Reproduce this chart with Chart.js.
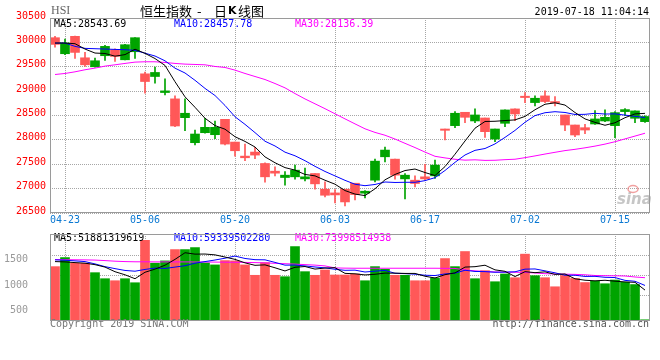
<!DOCTYPE html>
<html>
<head>
<meta charset="utf-8">
<script src="https://cdn.jsdelivr.net/npm/chart.js@4.4.1/dist/chart.umd.min.js"></script>
<style>
  body { margin: 0; background: #fff; }
  #wrap { position: relative; width: 660px; height: 360px; }
  canvas { position: absolute; left: 0; }
  #kline { top: 0; }
  #vol { top: 230px; }
</style>
</head>
<body>
<div id="wrap">
  <canvas id="kline" width="660" height="230"></canvas>
  <canvas id="vol" width="660" height="100"></canvas>
</div>
<script>
// HSI daily K-line, 2019-04-18 .. 2019-07-18
const dates = ['04-18','04-23','04-24','04-25','04-26','04-29','04-30','05-02','05-03','05-06',
  '05-07','05-08','05-09','05-10','05-14','05-15','05-16','05-17','05-20','05-21',
  '05-22','05-23','05-24','05-27','05-28','05-29','05-30','05-31','06-03','06-04',
  '06-05','06-06','06-10','06-11','06-12','06-13','06-14','06-17','06-18','06-19',
  '06-20','06-21','06-24','06-25','06-26','06-27','06-28','07-02','07-03','07-04',
  '07-05','07-08','07-09','07-10','07-11','07-12','07-15','07-16','07-17','07-18'];
const tickDates = ['04-23', '05-06', '05-20', '06-03', '06-17', '07-02', '07-15'];

const open = [30096,29767,30124,29684,29499,29726,29849,29643,29808,29355,
  29300,28971,28841,28456,27942,28147,28106,28422,27955,27667,
  27750,27516,27358,27228,27242,27200,27310,26988,26912,26988,
  27111,26906,27173,27653,27605,27200,27173,27242,27262,28223,
  28292,28566,28388,28449,28017,28340,28635,28896,28765,28902,
  28786,28511,28305,28250,28326,28388,28292,28580,28443,28374];
const high = [30124,30069,30130,29794,29677,29939,29870,29959,30100,29389,
  29492,29252,28902,28841,28202,28443,28388,28422,27955,27914,
  27846,27530,27448,27352,27482,27420,27310,27139,26981,26988,
  27111,26961,27605,27852,27605,27310,27262,27496,27585,28223,
  28580,28566,28635,28449,28223,28614,28635,28971,28902,29005,
  28889,28511,28305,28319,28600,28614,28580,28642,28594,28491];
const low = [29904,29746,29671,29506,29490,29630,29609,29640,29671,28957,
  29163,28923,28271,28189,27894,28140,28024,27894,27667,27571,
  27612,27132,27262,27070,27194,27159,26988,26830,26706,26645,
  26768,26809,27139,27550,27194,26789,27036,27173,27207,27997,
  28250,28353,28353,28052,27962,28271,28394,28765,28696,28765,
  28696,28189,28065,28127,28319,28374,28045,28497,28353,28360];
const close = [29959,29987,29794,29540,29623,29918,29712,29952,30096,29197,
  29383,29005,28285,28546,28120,28257,28257,27914,27777,27633,
  27688,27242,27317,27276,27379,27242,27098,26864,26871,26727,
  26878,26947,27564,27791,27276,27276,27105,27200,27482,28196,
  28546,28463,28511,28168,28223,28614,28532,28868,28854,28786,
  28758,28305,28100,28202,28429,28463,28559,28621,28594,28480];

const ma5 = [29986,29986,29973,29863,29781,29772,29717,29749,29860,29775,
  29668,29527,29193,28883,28668,28443,28293,28219,28065,27968,
  27854,27651,27531,27431,27380,27291,27262,27172,27091,26960,
  26888,26857,26997,27181,27291,27371,27402,27330,27268,27452,
  27706,27977,28240,28377,28382,28396,28410,28481,28618,28731,
  28760,28714,28561,28430,28359,28300,28351,28455,28533,28544];
const ma10 = [29986,29986,29918,29877,29870,29863,29856,29849,29836,29778,
  29720,29622,29471,29372,29222,29056,28910,28706,28474,28318,
  28149,27972,27875,27748,27674,27573,27457,27352,27261,27170,
  27090,27060,27085,27136,27126,27130,27130,27164,27225,27372,
  27539,27690,27785,27823,27917,28051,28194,28361,28498,28557,
  28578,28562,28521,28524,28545,28530,28533,28508,28482,28458];
const ma30 = [29341,29362,29396,29438,29472,29513,29540,29568,29595,29602,
  29602,29588,29568,29554,29547,29540,29506,29485,29431,29362,
  29300,29238,29156,29067,28950,28840,28740,28640,28535,28431,
  28328,28227,28153,28095,28017,27929,27842,27750,27663,27630,
  27602,27584,27591,27579,27582,27594,27603,27635,27671,27709,
  27745,27780,27806,27837,27872,27913,27962,28020,28078,28136];

// volume, in the units of the volume axis labels
const volume = [1366,1546,1434,1434,1246,1126,1086,1126,1046,1886,
  1434,1480,1706,1706,1746,1440,1400,1486,1480,1400,
  1194,1446,1194,1166,1766,1266,1194,1300,1200,1200,
  1220,1086,1366,1314,1194,1194,1086,1086,1140,1526,
  1366,1666,1126,1286,1066,1220,1146,1614,1186,1146,
  966,1190,1130,1050,1080,1026,1100,1056,1010,310];
const volMa5 = [1466,1460,1446,1434,1405,1357,1265,1204,1126,1254,
  1316,1394,1510,1642,1614,1616,1600,1556,1510,1441,
  1392,1401,1343,1280,1353,1368,1317,1338,1345,1232,
  1223,1201,1214,1237,1236,1231,1231,1175,1140,1206,
  1241,1357,1365,1394,1302,1273,1169,1266,1246,1262,
  1212,1220,1124,1096,1083,1095,1077,1062,1054,900];
const volMa10 = [1500,1493,1480,1466,1420,1366,1326,1290,1275,1310,
  1337,1330,1357,1384,1434,1466,1497,1533,1576,1528,
  1504,1501,1450,1395,1397,1380,1359,1341,1313,1293,
  1296,1259,1276,1291,1234,1227,1216,1195,1189,1221,
  1236,1294,1270,1267,1254,1257,1263,1316,1320,1282,
  1243,1195,1195,1171,1173,1154,1149,1093,1075,992];
const volMa30 = [1506,1504,1502,1500,1496,1486,1474,1466,1462,1462,
  1460,1460,1460,1460,1458,1458,1456,1454,1452,1450,
  1446,1440,1432,1424,1416,1406,1396,1380,1340,1336,
  1334,1334,1334,1334,1334,1334,1334,1334,1334,1332,
  1330,1300,1282,1270,1260,1256,1254,1250,1240,1226,
  1220,1216,1212,1204,1190,1186,1184,1180,1160,1146];

const volTicks = [500, 1000, 1500];
const volGrid = [786, 1186, 1586];
const volMin = 286, volMax = 2014;

const priceLegend = ['MA5:28543.69', 'MA10:28457.78', 'MA30:28136.39'];
const volLegend = ['MA5:51881319619', 'MA10:59339502280', 'MA30:73998514938'];

const MONO = '"DejaVu Sans Mono", "Liberation Mono", monospace';
const GRID = '#a6a6a6';
const UP = '#00a400', DOWN = '#ff5858';
const MA_COLORS = ['#000000', '#0000ff', '#ff00ff'];
const LEGEND_X = [54, 174, 295];

const candleColor = close.map((c, i) => c >= open[i] ? UP : DOWN);
const isTick = i => tickDates.includes(dates[i]);

function maLine(data, color) {
  return { type: 'line', data: data, borderColor: color, borderWidth: 1,
           pointRadius: 0, tension: 0, order: 0 };
}

// y axes: fixed width, and no extra room above/below for their labels
function fixY(width) {
  return s => { s.width = width; s.paddingTop = 0; s.paddingBottom = 0; };
}

// grey box round the plot area
const frame = {
  id: 'frame',
  afterDraw(chart) {
    const a = chart.chartArea, ctx = chart.ctx;
    ctx.save();
    ctx.strokeStyle = '#9a9a9a';
    ctx.lineWidth = 1;
    ctx.strokeRect(a.left + 0.5, a.top + 0.5, a.right - a.left - 1, a.bottom - a.top - 1);
    ctx.restore();
  }
};

function drawLegend(ctx, texts, y) {
  ctx.font = '10px ' + MONO;
  ctx.textAlign = 'left';
  texts.forEach((t, i) => {
    ctx.fillStyle = MA_COLORS[i];
    ctx.fillText(t, LEGEND_X[i], y);
  });
}

const kText = {
  id: 'kText',
  beforeDatasetsDraw(chart) {
    const ctx = chart.ctx;
    ctx.save();
    // sina watermark
    ctx.font = 'italic bold 15px "DejaVu Sans"';
    ctx.fillStyle = '#c6c6c6';
    ctx.textAlign = 'left';
    ctx.textBaseline = 'alphabetic';
    ctx.fillText('sina', 617, 204);
    ctx.strokeStyle = 'rgba(235,120,120,0.7)';
    ctx.lineWidth = 1.5;
    ctx.beginPath();
    ctx.ellipse(633, 189, 5, 3.5, 0, 0, Math.PI * 2);
    ctx.stroke();
    ctx.restore();
  },
  afterDraw(chart) {
    const ctx = chart.ctx;
    ctx.save();
    ctx.textBaseline = 'middle';
    ctx.font = '12px "Liberation Serif"';
    ctx.fillStyle = '#666';
    ctx.textAlign = 'left';
    ctx.fillText('HSI', 51, 11);
    // title, laid out piece by piece like the original bitmap font
    ctx.fillStyle = '#000';
    ctx.font = '13px "Noto Sans CJK SC"';
    ctx.fillText('恒生指数', 140, 11);
    ctx.fillText('-', 197, 11);
    ctx.fillText('日', 214, 11);
    ctx.font = 'bold 11px "DejaVu Sans"';
    ctx.fillText('K', 228, 11);
    ctx.font = '13px "Noto Sans CJK SC"';
    ctx.fillText('线图', 238, 11);
    ctx.font = '10px ' + MONO;
    ctx.textAlign = 'right';
    ctx.fillText('2019-07-18 11:04:14', 649, 12);
    drawLegend(ctx, priceLegend, 24);
    ctx.restore();
  }
};

const volText = {
  id: 'volText',
  afterDraw(chart) {
    const ctx = chart.ctx;
    ctx.save();
    ctx.textBaseline = 'middle';
    drawLegend(ctx, volLegend, 8.5);
    ctx.font = '10px ' + MONO;
    ctx.fillStyle = '#777';
    ctx.textAlign = 'left';
    ctx.fillText('Copyright 2019 SINA.COM', 50, 94);
    ctx.fillStyle = '#555';
    ctx.textAlign = 'right';
    ctx.fillText('http://finance.sina.com.cn', 649, 94);
    ctx.restore();
  }
};

const xGrid = {
  offset: false,
  drawTicks: false,
  color: c => isTick(c.index) ? GRID : 'rgba(0,0,0,0)'
};

new Chart(document.getElementById('kline'), {
  type: 'bar',
  data: {
    labels: dates,
    datasets: [
      maLine(ma5, MA_COLORS[0]),
      maLine(ma10, MA_COLORS[1]),
      maLine(ma30, MA_COLORS[2]),
      { data: dates.map((d, i) => [low[i], high[i]]), backgroundColor: candleColor,
        barThickness: 1, grouped: false, order: 1 },
      { data: dates.map((d, i) => [open[i], close[i]]), backgroundColor: candleColor,
        barThickness: 9, grouped: false, minBarLength: 1, order: 1 }
    ]
  },
  options: {
    responsive: false,
    animation: false,
    devicePixelRatio: 1,
    layout: { padding: { left: 0, right: 10, top: 18, bottom: 0 } },
    plugins: { legend: { display: false }, tooltip: { enabled: false } },
    scales: {
      x: {
        offset: true,
        grid: xGrid,
        border: { display: false, dash: [1, 1] },
        ticks: {
          autoSkip: false, maxRotation: 0, padding: 1, color: '#0a78d2',
          font: { family: MONO, size: 10 },
          callback: (v, i) => isTick(i) ? dates[i] : ''
        },
        afterFit: s => { s.height = 17; }
      },
      y: {
        min: 26500, max: 30500,
        grid: { color: GRID, drawTicks: false },
        border: { display: false, dash: [1, 1] },
        ticks: {
          stepSize: 500, color: '#f00', padding: 4, labelOffset: -2,
          font: { family: MONO, size: 10 },
          callback: v => String(v)
        },
        afterFit: fixY(50)
      }
    }
  },
  plugins: [kText, frame]
});

new Chart(document.getElementById('vol'), {
  type: 'bar',
  data: {
    labels: dates,
    datasets: [
      maLine(volMa5, MA_COLORS[0]),
      maLine(volMa10, MA_COLORS[1]),
      maLine(volMa30, MA_COLORS[2]),
      { data: volume, backgroundColor: candleColor, barThickness: 9, order: 1 }
    ]
  },
  options: {
    responsive: false,
    animation: false,
    devicePixelRatio: 1,
    layout: { padding: { left: 0, right: 10, top: 4, bottom: 9 } },
    plugins: { legend: { display: false }, tooltip: { enabled: false } },
    scales: {
      x: {
        offset: true,
        grid: xGrid,
        border: { display: false, dash: [1, 1] },
        ticks: { display: false, autoSkip: false },
        afterFit: s => { s.height = 0; }
      },
      y: {
        min: volMin, max: volMax,
        grid: { display: false, drawTicks: false },
        border: { display: false },
        ticks: { color: '#999', padding: 22, font: { family: MONO, size: 10 }, callback: v => String(v) },
        afterBuildTicks: s => { s.ticks = volTicks.map(v => ({ value: v })); },
        afterFit: fixY(50)
      },
      yg: {
        position: 'right',
        min: volMin, max: volMax,
        grid: { color: GRID, drawTicks: false },
        border: { display: false, dash: [1, 1] },
        ticks: { display: false },
        afterBuildTicks: s => { s.ticks = volGrid.map(v => ({ value: v })); },
        afterFit: fixY(0)
      }
    }
  },
  plugins: [volText, frame]
});
</script>
</body>
</html>
